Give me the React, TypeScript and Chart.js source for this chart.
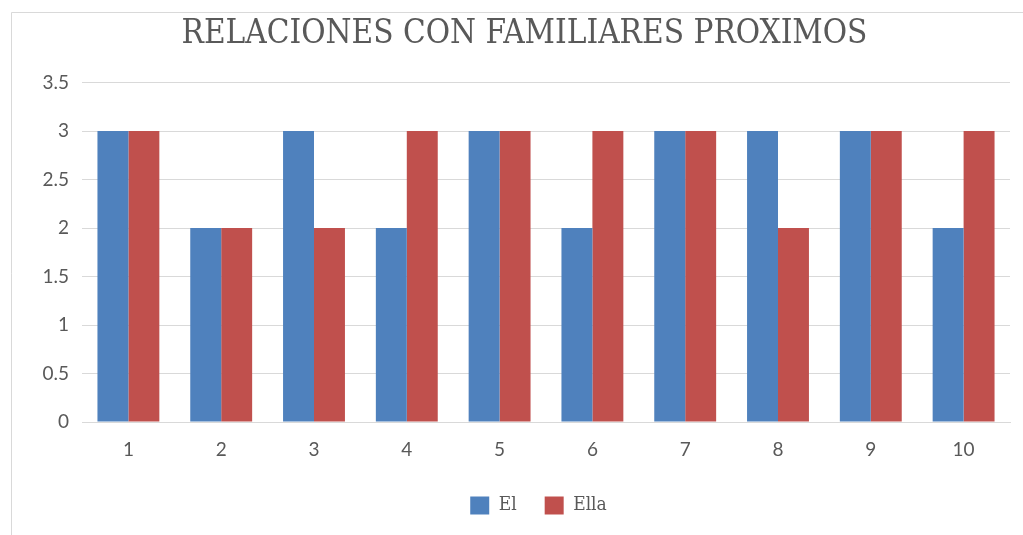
import React, { useEffect, useRef } from "react";
import { Chart, registerables } from "chart.js";

Chart.register(...registerables);

const categories = ["1", "2", "3", "4", "5", "6", "7", "8", "9", "10"];
const elValues = [3, 2, 3, 2, 3, 2, 3, 3, 3, 2];
const ellaValues = [3, 2, 2, 3, 3, 3, 3, 2, 3, 3];
const titleText = "RELACIONES CON FAMILIARES PROXIMOS";
const seriesNames = ["El", "Ella"];

const framePlugin = {
  id: "frame",
  beforeDraw(chart: any) {
    const ctx = chart.ctx;
    ctx.save();
    ctx.fillStyle = "#ffffff";
    ctx.fillRect(0, 0, chart.width, chart.height);
    ctx.strokeStyle = "#d9d9d9";
    ctx.lineWidth = 1;
    ctx.beginPath();
    ctx.moveTo(11.5, chart.height);
    ctx.lineTo(11.5, 12.5);
    ctx.lineTo(chart.width, 12.5);
    ctx.stroke();
    ctx.restore();
  },
  afterLayout(chart: any) {
    if (chart.legend) {
      chart.legend.left += 21;
      chart.legend.right += 21;
    }
    if (chart.titleBlock) {
      chart.titleBlock.left += 7;
      chart.titleBlock.right += 7;
    }
  },
};

export default function App() {
  const ref = useRef<HTMLCanvasElement>(null);
  useEffect(() => {
    if (!ref.current) return;
    const chart = new Chart(ref.current, {
      type: "bar",
      data: {
        labels: categories,
        datasets: [
          {
            label: seriesNames[0],
            data: elValues,
            backgroundColor: "#4F81BD",
            borderWidth: 0,
          },
          {
            label: seriesNames[1],
            data: ellaValues,
            backgroundColor: "#C0504D",
            borderWidth: 0,
          },
        ],
      },
      options: {
        animation: false,
        responsive: false,
        layout: { padding: { left: 25, right: 13, top: 0, bottom: 10 } },
        plugins: {
          title: {
            display: true,
            text: titleText,
            color: "#595959",
            font: { family: "'DejaVu Serif Condensed', 'Liberation Serif', serif", size: 33, weight: "normal" },
            padding: { top: 15, bottom: 28 },
          },
          legend: {
            position: "bottom",
            labels: {
              color: "#595959",
              font: { family: "'DejaVu Serif Condensed', 'Liberation Serif', serif", size: 19 },
              boxWidth: 19,
              boxHeight: 18,
              padding: 28,
            },
          },
          tooltip: { enabled: false },
        },
        datasets: {
          bar: { categoryPercentage: 0.667, barPercentage: 1 },
        },
        scales: {
          x: {
            grid: { display: false, drawTicks: false },
            border: { display: true, color: "#d9d9d9" },
            ticks: {
              color: "#595959",
              font: { family: "Lato, 'Open Sans', sans-serif", size: 19 },
              padding: 16,
            },
            afterFit(scale: any) {
              scale.height = 46;
            },
          },
          y: {
            min: 0,
            max: 3.5,
            ticks: {
              stepSize: 0.5,
              color: "#595959",
              font: { family: "Lato, 'Open Sans', sans-serif", size: 19 },
              padding: 13,
              callback: (v: any) => String(Number(v)),
            },
            grid: { color: "#d9d9d9", drawTicks: false },
            border: { display: false },
            afterFit(scale: any) {
              scale.width = 57;
            },
          },
        },
      },
      plugins: [framePlugin],
    });
    return () => chart.destroy();
  }, []);
  return (
    <div style={{ position: "fixed", left: 0, top: 0, width: 1023, height: 535 }}>
      <canvas ref={ref} width={1023} height={535} />
    </div>
  );
}
